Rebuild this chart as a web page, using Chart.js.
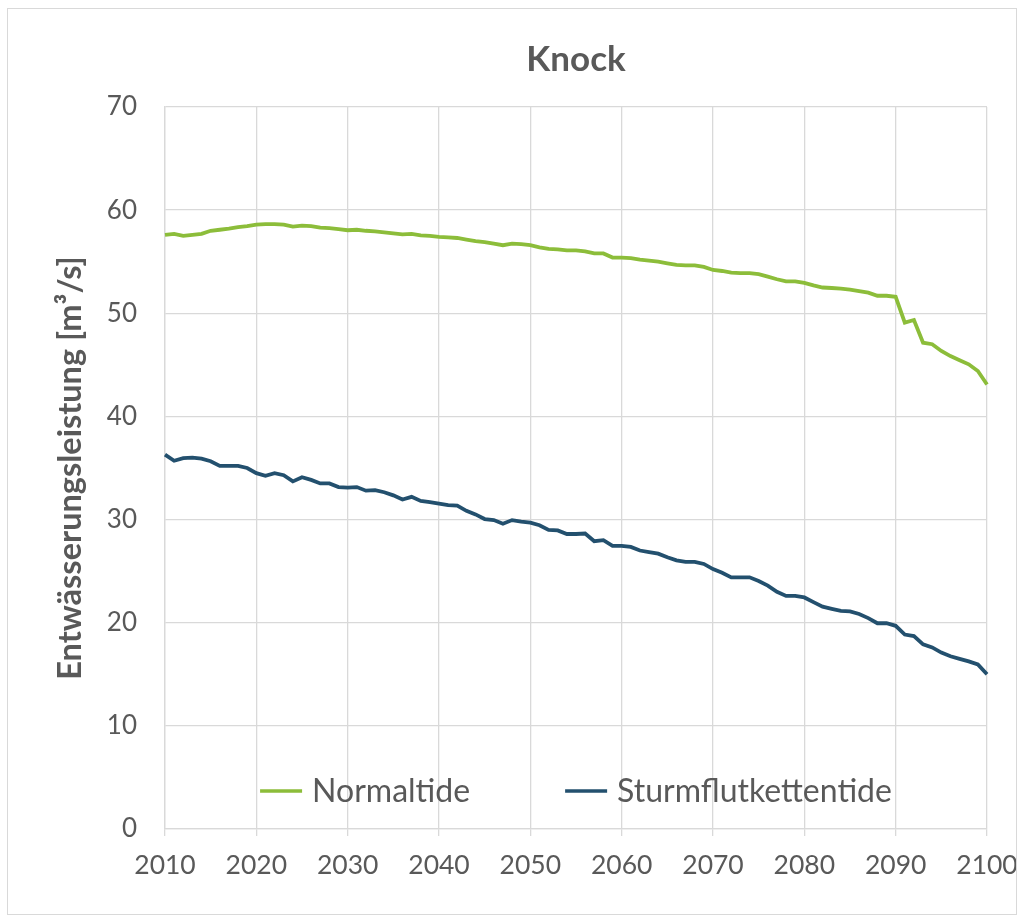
<!DOCTYPE html>
<html>
<head>
<meta charset="utf-8">
<title>Knock</title>
<script src="https://cdn.jsdelivr.net/npm/chart.js@4/dist/chart.umd.min.js"></script>
<style>
  body { margin: 0; background: #fff; }
  .chart-container { position: relative; width: 1020px; height: 916px; }
  .frame {
    position: absolute; left: 7px; top: 8px; width: 1008px; height: 905px;
    border: 1px solid #d9d9d9; pointer-events: none;
  }
</style>
</head>
<body>
<div class="chart-container">
  <canvas id="chart" width="1020" height="916"></canvas>
  <div class="frame"></div>
</div>
<script>
// Data
const years = [
  2010, 2011, 2012, 2013, 2014, 2015, 2016, 2017, 2018, 2019,
  2020, 2021, 2022, 2023, 2024, 2025, 2026, 2027, 2028, 2029,
  2030, 2031, 2032, 2033, 2034, 2035, 2036, 2037, 2038, 2039,
  2040, 2041, 2042, 2043, 2044, 2045, 2046, 2047, 2048, 2049,
  2050, 2051, 2052, 2053, 2054, 2055, 2056, 2057, 2058, 2059,
  2060, 2061, 2062, 2063, 2064, 2065, 2066, 2067, 2068, 2069,
  2070, 2071, 2072, 2073, 2074, 2075, 2076, 2077, 2078, 2079,
  2080, 2081, 2082, 2083, 2084, 2085, 2086, 2087, 2088, 2089,
  2090, 2091, 2092, 2093, 2094, 2095, 2096, 2097, 2098, 2099,
  2100,
];

const normaltide = [
  57.6, 57.7, 57.5, 57.6, 57.7, 58.0, 58.1, 58.2, 58.35, 58.45,
  58.6, 58.65, 58.65, 58.6, 58.4, 58.5, 58.45, 58.3, 58.25, 58.15,
  58.05, 58.1, 58.0, 57.95, 57.85, 57.75, 57.65, 57.7, 57.55, 57.5,
  57.4, 57.35, 57.3, 57.15, 57.0, 56.9, 56.75, 56.6, 56.75, 56.7,
  56.6, 56.4, 56.25, 56.2, 56.1, 56.1, 56.0, 55.8, 55.8, 55.4,
  55.4, 55.35, 55.2, 55.1, 55.0, 54.85, 54.7, 54.65, 54.65, 54.5,
  54.2, 54.1, 53.95, 53.9, 53.9, 53.8, 53.55, 53.3, 53.1, 53.1,
  52.95, 52.7, 52.5, 52.45, 52.4, 52.3, 52.15, 52.0, 51.7, 51.7,
  51.6, 49.1, 49.35, 47.15, 47.0, 46.35, 45.85, 45.45, 45.05, 44.4,
  43.1,
];

const sturmflutkettentide = [
  36.3, 35.7, 35.95, 36.0, 35.9, 35.65, 35.2, 35.2, 35.2, 35.0,
  34.5, 34.25, 34.5, 34.3, 33.7, 34.1, 33.85, 33.5, 33.5, 33.15,
  33.1, 33.15, 32.8, 32.85, 32.65, 32.35, 31.95, 32.2, 31.8, 31.7,
  31.55, 31.4, 31.35, 30.85, 30.5, 30.05, 29.95, 29.6, 29.95, 29.8,
  29.7, 29.45, 29.0, 28.95, 28.6, 28.6, 28.65, 27.9, 28.0, 27.45,
  27.45, 27.35, 27.0, 26.85, 26.7, 26.35, 26.05, 25.9, 25.9, 25.7,
  25.2, 24.85, 24.4, 24.4, 24.4, 24.05, 23.6, 23.0, 22.6, 22.6,
  22.45, 22.0, 21.55, 21.35, 21.15, 21.1, 20.85, 20.45, 19.95, 19.95,
  19.7, 18.85, 18.7, 17.9, 17.6, 17.1, 16.75, 16.5, 16.25, 15.95,
  15.0,
];

const yTicks = [0, 10, 20, 30, 40, 50, 60, 70];
const xTickYears = [2010, 2020, 2030, 2040, 2050, 2060, 2070, 2080, 2090, 2100];

const textColor = "#595959";
const gridColor = "#d9d9d9";
const fontFamily = "Lato, 'Open Sans', sans-serif";

// legend drawn inside the plot area, centred near the bottom
const insideLegend = {
  id: "insideLegend",
  afterDraw(chart) {
    const { ctx, chartArea } = chart;
    const lineLen = 42;
    const gap = 10;
    const itemGap = 95;
    ctx.save();
    ctx.font = `32px ${fontFamily}`;
    ctx.textBaseline = "middle";

    const items = chart.data.datasets.map((ds) => ({
      label: ds.label,
      color: ds.borderColor,
      width: lineLen + gap + ctx.measureText(ds.label).width,
    }));
    const total =
      items.reduce((sum, it) => sum + it.width, 0) + itemGap * (items.length - 1);

    let x = (chartArea.left + chartArea.right) / 2 - total / 2;
    const y = chartArea.bottom - 38;
    items.forEach((it) => {
      ctx.strokeStyle = it.color;
      ctx.lineWidth = 3.5;
      ctx.beginPath();
      ctx.moveTo(x, y);
      ctx.lineTo(x + lineLen, y);
      ctx.stroke();
      ctx.fillStyle = textColor;
      ctx.fillText(it.label, x + lineLen + gap, y + 1);
      x += it.width + itemGap;
    });
    ctx.restore();
  },
};

const chartConfig = {
  type: "line",
  data: {
    labels: years,
    datasets: [
      {
        label: "Normaltide",
        data: normaltide,
        borderColor: "#8cbd3a",
        backgroundColor: "#8cbd3a",
        borderWidth: 3.8,
        pointRadius: 0,
        tension: 0,
      },
      {
        label: "Sturmflutkettentide",
        data: sturmflutkettentide,
        borderColor: "#23506e",
        backgroundColor: "#23506e",
        borderWidth: 3.8,
        pointRadius: 0,
        tension: 0,
      },
    ],
  },
  options: {
    responsive: false,
    animation: false,
    devicePixelRatio: 1,
    layout: { padding: { left: 0, right: 33, top: 0, bottom: 0 } },
    plugins: {
      legend: { display: false },
      tooltip: { enabled: false },
      title: {
        display: true,
        text: "Knock",
        fullSize: false,
        color: textColor,
        font: { family: fontFamily, size: 35, weight: "bold" },
        padding: { top: 39, bottom: 26 },
      },
    },
    scales: {
      x: {
        type: "category",
        offset: false,
        border: { color: gridColor, width: 1.3 },
        grid: {
          color: gridColor,
          lineWidth: 1.3,
          drawTicks: true,
          tickLength: 7,
        },
        ticks: {
          autoSkip: false,
          maxRotation: 0,
          padding: 14,
          color: textColor,
          font: { family: fontFamily, size: 26.5 },
          callback: function (value) {
            const year = this.getLabelForValue(value);
            return xTickYears.includes(year) ? String(year) : null;
          },
        },
        afterFit: (scale) => {
          scale.height = 87;
          // the last label may hang over the plot edge, as in the original
          scale.paddingLeft = 0;
          scale.paddingRight = 0;
        },
      },
      y: {
        min: 0,
        max: 70,
        border: { color: gridColor, width: 1.3 },
        grid: { color: gridColor, lineWidth: 1.3, drawTicks: false },
        afterBuildTicks: (scale) => {
          scale.ticks = yTicks.map((v) => ({ value: v }));
        },
        ticks: {
          padding: 28,
          color: textColor,
          font: { family: fontFamily, size: 26 },
        },
        title: {
          display: true,
          text: "Entwässerungsleistung [m³/s]",
          color: textColor,
          font: { family: fontFamily, size: 32.5, weight: "bold" },
          padding: { top: 51, bottom: 0 },
        },
        afterFit: (scale) => {
          scale.width = 165;
        },
      },
    },
  },
  plugins: [insideLegend],
};

window.onload = function () {
  const chartArea = document.getElementById("chart");
  const myChart = new Chart(chartArea, chartConfig);
};
</script>
</body>
</html>
